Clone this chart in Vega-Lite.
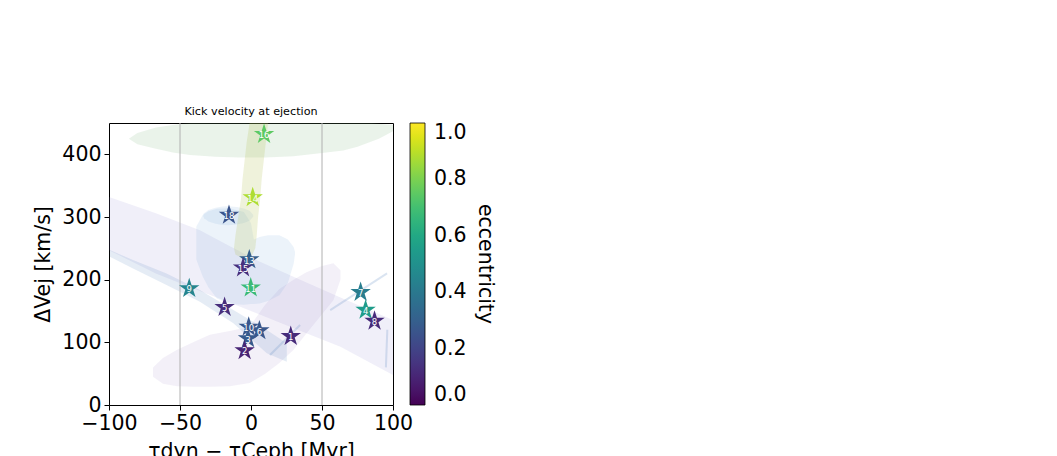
{
  "$schema": "https://vega.github.io/schema/vega-lite/v6.json",
  "width": 284,
  "height": 282,
  "autosize": {"type": "none"},
  "padding": {"left": 109, "top": 123, "right": 664, "bottom": 51},
  "background": "white",
  "title": {"text": "Kick velocity at ejection", "font": "DejaVu Sans", "fontSize": 11.2, "fontWeight": "normal", "color": "black", "anchor": "middle", "offset": 5},
  "config": {
    "view": {"stroke": "black", "strokeWidth": 1},
    "axis": {"domain": false, "grid": false, "labelFont": "DejaVu Sans", "labelFontSize": 20.5, "labelColor": "black", "labelFlush": false, "labelOverlap": false, "tickColor": "black", "tickSize": 5, "tickWidth": 1, "labelPadding": 3, "titleFont": "DejaVu Sans", "titleFontSize": 20.5, "titleFontWeight": "normal", "titleColor": "black"}
  },
  "datasets": {
    "stars": [
      {"id": "1", "x": 28, "y": 109.6, "ecc": 0.12},
      {"id": "3", "x": -2.1, "y": 106, "ecc": 0.28},
      {"id": "10", "x": -1.6, "y": 124.5, "ecc": 0.27},
      {"id": "6", "x": 5.9, "y": 118.6, "ecc": 0.27},
      {"id": "2", "x": -4.5, "y": 87, "ecc": 0.1},
      {"id": "4", "x": 80.7, "y": 151.6, "ecc": 0.55},
      {"id": "5", "x": -18.6, "y": 156, "ecc": 0.13},
      {"id": "7", "x": 77.2, "y": 180, "ecc": 0.42},
      {"id": "8", "x": 87, "y": 134, "ecc": 0.12},
      {"id": "9", "x": -43.5, "y": 186, "ecc": 0.45},
      {"id": "11", "x": -0.2, "y": 187, "ecc": 0.68},
      {"id": "13", "x": -1.2, "y": 232, "ecc": 0.3},
      {"id": "15", "x": -5.6, "y": 219, "ecc": 0.13},
      {"id": "14", "x": 1.2, "y": 331, "ecc": 0.88},
      {"id": "16", "x": 9.2, "y": 432, "ecc": 0.75},
      {"id": "18", "x": -15.5, "y": 303, "ecc": 0.26}
    ],
    "clouds": [
      {"cloud": "A", "x": -86, "lo": 425, "hi": 425},
      {"cloud": "A", "x": -80, "lo": 416, "hi": 434},
      {"cloud": "A", "x": -67, "lo": 409, "hi": 443},
      {"cloud": "A", "x": -55, "lo": 403, "hi": 447},
      {"cloud": "A", "x": -43, "lo": 399, "hi": 450},
      {"cloud": "A", "x": -25, "lo": 396, "hi": 453},
      {"cloud": "A", "x": -8, "lo": 395, "hi": 455},
      {"cloud": "A", "x": 10, "lo": 395, "hi": 456},
      {"cloud": "A", "x": 30, "lo": 397, "hi": 456},
      {"cloud": "A", "x": 50, "lo": 402, "hi": 455},
      {"cloud": "A", "x": 65, "lo": 406, "hi": 454},
      {"cloud": "A", "x": 75, "lo": 412, "hi": 452},
      {"cloud": "A", "x": 90, "lo": 425, "hi": 449},
      {"cloud": "A", "x": 100, "lo": 437, "hi": 447},
      {"cloud": "D", "x": -100, "lo": 247, "hi": 332},
      {"cloud": "D", "x": -67, "lo": 210, "hi": 306},
      {"cloud": "D", "x": -36, "lo": 182, "hi": 279},
      {"cloud": "D", "x": -19.5, "lo": 167.6, "hi": 259},
      {"cloud": "D", "x": 4, "lo": 146.3, "hi": 231},
      {"cloud": "D", "x": 27.5, "lo": 125, "hi": 207},
      {"cloud": "D", "x": 51, "lo": 103.8, "hi": 183.5},
      {"cloud": "D", "x": 63, "lo": 93, "hi": 171.7},
      {"cloud": "D", "x": 100, "lo": 48, "hi": 135.6},
      {"cloud": "E", "x": -69, "lo": 45, "hi": 60},
      {"cloud": "E", "x": -62, "lo": 34, "hi": 75},
      {"cloud": "E", "x": -52, "lo": 30, "hi": 88},
      {"cloud": "E", "x": -40, "lo": 29, "hi": 101},
      {"cloud": "E", "x": -29, "lo": 29, "hi": 112},
      {"cloud": "E", "x": -15, "lo": 30, "hi": 118},
      {"cloud": "E", "x": -1, "lo": 35, "hi": 125},
      {"cloud": "E", "x": 10, "lo": 50, "hi": 160},
      {"cloud": "E", "x": 20, "lo": 67, "hi": 185},
      {"cloud": "E", "x": 30, "lo": 88, "hi": 200},
      {"cloud": "E", "x": 39, "lo": 114, "hi": 212},
      {"cloud": "E", "x": 50, "lo": 145, "hi": 222},
      {"cloud": "E", "x": 58, "lo": 167, "hi": 226},
      {"cloud": "E", "x": 63, "lo": 200, "hi": 215},
      {"cloud": "C", "x": -38.5, "lo": 232, "hi": 285},
      {"cloud": "C", "x": -34, "lo": 205, "hi": 303},
      {"cloud": "C", "x": -30, "lo": 188, "hi": 309},
      {"cloud": "C", "x": -24, "lo": 170, "hi": 313},
      {"cloud": "C", "x": -15, "lo": 161, "hi": 314},
      {"cloud": "C", "x": -5, "lo": 160, "hi": 308},
      {"cloud": "C", "x": 0, "lo": 161, "hi": 290},
      {"cloud": "C", "x": 2, "lo": 161, "hi": 264},
      {"cloud": "C", "x": 6, "lo": 162, "hi": 268},
      {"cloud": "C", "x": 12, "lo": 166, "hi": 271},
      {"cloud": "C", "x": 20, "lo": 175, "hi": 271},
      {"cloud": "C", "x": 26, "lo": 195, "hi": 264},
      {"cloud": "C", "x": 30, "lo": 225, "hi": 252},
      {"cloud": "C", "x": 31, "lo": 240, "hi": 244},
      {"cloud": "G", "x": -33.6, "lo": 301, "hi": 303},
      {"cloud": "G", "x": -33, "lo": 298.1, "hi": 305.9},
      {"cloud": "G", "x": -30, "lo": 292.9, "hi": 311.1},
      {"cloud": "G", "x": -25, "lo": 289.1, "hi": 314.9},
      {"cloud": "G", "x": -20, "lo": 287.4, "hi": 316.6},
      {"cloud": "G", "x": -16, "lo": 287, "hi": 317},
      {"cloud": "G", "x": -10, "lo": 287.9, "hi": 316.1},
      {"cloud": "G", "x": -5, "lo": 290.3, "hi": 313.7},
      {"cloud": "G", "x": -1, "lo": 294.2, "hi": 309.8},
      {"cloud": "G", "x": 1.5, "lo": 300.4, "hi": 303.6},
      {"cloud": "F", "x": -99.4, "lo": 236.5, "hi": 247.2},
      {"cloud": "F", "x": -83.1, "lo": 218, "hi": 231.3},
      {"cloud": "F", "x": -59.5, "lo": 191.4, "hi": 210},
      {"cloud": "F", "x": -36, "lo": 164.8, "hi": 183.4},
      {"cloud": "F", "x": -12.4, "lo": 130.3, "hi": 151.5},
      {"cloud": "F", "x": 11.1, "lo": 82.5, "hi": 119.6},
      {"cloud": "F", "x": 25.2, "lo": 69.1, "hi": 98.4}
    ],
    "band": [
      {"y": 234, "left": -6, "right": -4},
      {"y": 240, "left": -11, "right": 1},
      {"y": 250, "left": -12, "right": 3},
      {"y": 270, "left": -11, "right": 4},
      {"y": 300, "left": -9, "right": 5},
      {"y": 330, "left": -7, "right": 6.5},
      {"y": 360, "left": -6, "right": 7.5},
      {"y": 390, "left": -4.5, "right": 9},
      {"y": 420, "left": -3, "right": 10.5},
      {"y": 450, "left": -1, "right": 12}
    ],
    "streaks": [
      {"s": "a", "k": 0, "x": 55.8, "y": 151.5},
      {"s": "a", "k": 1, "x": 95.8, "y": 210},
      {"s": "b", "k": 0, "x": 13.4, "y": 79.7},
      {"s": "b", "k": 1, "x": 34.6, "y": 127.6},
      {"s": "c", "k": 0, "x": 95, "y": 60},
      {"s": "c", "k": 1, "x": 96, "y": 120}
    ],
    "vlines": [{"x": -50}, {"x": 50}]
  },
  "layer": [
    {
      "data": {"name": "clouds"},
      "transform": [{"filter": "datum.cloud === 'A'"}],
      "mark": {"type": "area", "clip": true, "fill": "#7fb77e", "fillOpacity": 0.16},
      "encoding": {
        "x": {"field": "x", "type": "quantitative", "scale": {"domain": [-100, 100], "nice": false, "zero": false}, "axis": {"values": [-100, -50, 0, 50, 100], "labelExpr": "replace(datum.label, '-', '−')", "title": "τdyn − τCeph [Myr]", "titlePadding": 8}},
        "y": {"field": "lo", "type": "quantitative", "scale": {"domain": [0, 450], "nice": false}, "axis": {"values": [0, 100, 200, 300, 400], "title": "ΔVej [km/s]", "titlePadding": 8}},
        "y2": {"field": "hi"}
      }
    },
    {
      "data": {"name": "clouds"},
      "transform": [{"filter": "datum.cloud === 'D'"}],
      "mark": {"type": "area", "clip": true, "fill": "#8c82d0", "fillOpacity": 0.13},
      "encoding": {"x": {"field": "x", "type": "quantitative"}, "y": {"field": "lo", "type": "quantitative"}, "y2": {"field": "hi"}}
    },
    {
      "data": {"name": "clouds"},
      "transform": [{"filter": "datum.cloud === 'E'"}],
      "mark": {"type": "area", "clip": true, "fill": "#a48ccc", "fillOpacity": 0.13},
      "encoding": {"x": {"field": "x", "type": "quantitative"}, "y": {"field": "lo", "type": "quantitative"}, "y2": {"field": "hi"}}
    },
    {
      "data": {"name": "clouds"},
      "transform": [{"filter": "datum.cloud === 'C'"}],
      "mark": {"type": "area", "clip": true, "fill": "#6f9fd8", "fillOpacity": 0.13},
      "encoding": {"x": {"field": "x", "type": "quantitative"}, "y": {"field": "lo", "type": "quantitative"}, "y2": {"field": "hi"}}
    },
    {
      "data": {"name": "clouds"},
      "transform": [{"filter": "datum.cloud === 'G'"}],
      "mark": {"type": "area", "clip": true, "fill": "#6f9fd8", "fillOpacity": 0.13},
      "encoding": {"x": {"field": "x", "type": "quantitative"}, "y": {"field": "lo", "type": "quantitative"}, "y2": {"field": "hi"}}
    },
    {
      "data": {"name": "clouds"},
      "transform": [{"filter": "datum.cloud === 'F'"}],
      "mark": {"type": "area", "clip": true, "fill": "#6d94c6", "fillOpacity": 0.18},
      "encoding": {"x": {"field": "x", "type": "quantitative"}, "y": {"field": "lo", "type": "quantitative"}, "y2": {"field": "hi"}}
    },
    {
      "data": {"name": "band"},
      "mark": {"type": "area", "orient": "horizontal", "clip": true, "fill": "#b5c25a", "fillOpacity": 0.22},
      "encoding": {"y": {"field": "y", "type": "quantitative"}, "x": {"field": "left", "type": "quantitative"}, "x2": {"field": "right"}}
    },
    {
      "data": {"name": "streaks"},
      "mark": {"type": "line", "clip": true, "stroke": "#6d94c6", "strokeOpacity": 0.25, "strokeWidth": 2},
      "encoding": {"x": {"field": "x", "type": "quantitative"}, "y": {"field": "y", "type": "quantitative"}, "detail": {"field": "s", "type": "nominal"}, "order": {"field": "k", "type": "quantitative"}}
    },
    {
      "data": {"name": "vlines"},
      "mark": {"type": "rule", "stroke": "#b0b0b0", "strokeWidth": 1},
      "encoding": {"x": {"field": "x", "type": "quantitative"}}
    },
    {
      "data": {"name": "stars"},
      "mark": {"type": "point", "shape": "M0,-1L0.2245,-0.309L0.9511,-0.309L0.3633,0.118L0.5878,0.809L0,0.382L-0.5878,0.809L-0.3633,0.118L-0.9511,-0.309L-0.2245,-0.309Z", "filled": true, "size": 460, "opacity": 1, "strokeWidth": 0},
      "encoding": {
        "x": {"field": "x", "type": "quantitative"},
        "y": {"field": "y", "type": "quantitative"},
        "color": {"field": "ecc", "type": "quantitative", "scale": {"scheme": "viridis", "domain": [0, 1]},
          "legend": {"title": "eccentricity", "orient": "right", "offset": 17, "direction": "vertical", "gradientLength": 282, "gradientThickness": 15, "gradientStrokeColor": "black", "gradientStrokeWidth": 0.8, "values": [0, 0.2, 0.4, 0.6, 0.8, 1], "format": ".1f", "labelFont": "DejaVu Sans", "labelFontSize": 20.5, "labelColor": "black", "labelOffset": 9, "labelOverlap": false, "titleOrient": "right", "titleAngle": 270, "titleAnchor": "middle", "titleFont": "DejaVu Sans", "titleFontSize": 20.5, "titleFontWeight": "normal", "titleColor": "black", "titlePadding": 8,
            "encode": {"labels": {"update": {"baseline": {"value": "middle"}}}}}
        }
      }
    },
    {
      "data": {"name": "stars"},
      "mark": {"type": "text", "fill": "white", "font": "DejaVu Sans", "fontSize": 8.5, "align": "center", "baseline": "middle", "dy": 1},
      "encoding": {"x": {"field": "x", "type": "quantitative"}, "y": {"field": "y", "type": "quantitative"}, "text": {"field": "id", "type": "nominal"}}
    }
  ]
}
